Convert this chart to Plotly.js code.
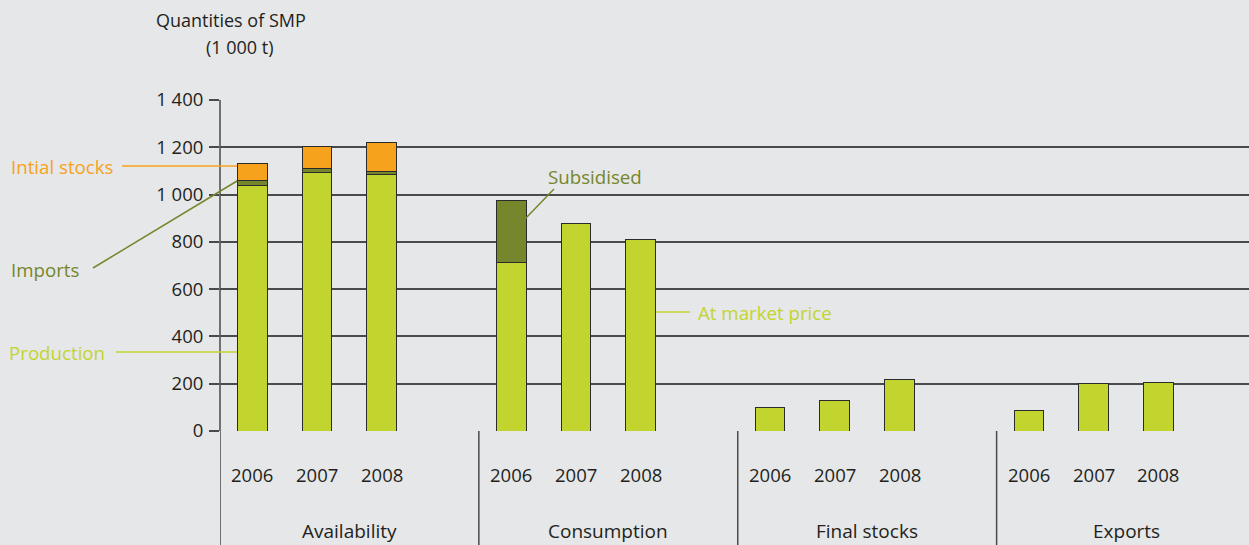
<!DOCTYPE html>
<html>
<head>
<meta charset="utf-8">
<script src="https://cdn.plot.ly/plotly-3.0.1.min.js"></script>
<style>html,body{margin:0;padding:0;background:#e6e7e8;}#chart{width:1249px;height:545px;}</style>
</head>
<body>
<div id="chart"></div>
<script>
// ---- data ----
const groups = ['Availability', 'Consumption', 'Final stocks', 'Exports'];
const years = ['2006', '2007', '2008'];
// lower segment: Production (availability) / At market price (consumption) / totals
const baseValues = [1040, 1093, 1083, 714, 876, 809, 98, 130, 219, 88, 202, 207];
// middle segment: Imports (availability) / Subsidised (consumption)
const midValues = [18, 18, 14, 263, null, null, null, null, null, null, null, null];
// top segment: Initial stocks
const topValues = [74, 94, 124, null, null, null, null, null, null, null, null, null];
const yTickVals = [0, 200, 400, 600, 800, 1000, 1200, 1400];
const yTickText = ['0', '200', '400', '600', '800', '1 000', '1 200', '1 400'];

// ---- layout helpers ----
const slotsPerGroup = 4;
const xPos = [];
groups.forEach((g, gi) => years.forEach((y, yi) => xPos.push(gi * slotsPerGroup + yi)));

const W = 1249, H = 545, L = 220, T = 100, B = 114, R = 0;
const pw = W - L - R, ph = H - T - B;
const px = x => (x - L) / pw;          // pixel -> paper x
const py = y => (H - B - y) / ph;      // pixel -> paper y

const FONT = 'Open Sans, sans-serif';
const TXT = '#231f20';
const LIME = '#c2d52f', OLIVE = '#76862c', ORANGE = '#f7a21d';
const GRID = '#4a4a4a';
const lineStyle = {color: '#2b2b2b', width: 1};

const traces = [
  {type: 'bar', x: xPos, y: baseValues, marker: {color: LIME, line: lineStyle}, width: 0.46, hoverinfo: 'y'},
  {type: 'bar', x: xPos, y: midValues, marker: {color: OLIVE, line: lineStyle}, width: 0.46, hoverinfo: 'y'},
  {type: 'bar', x: xPos, y: topValues, marker: {color: ORANGE, line: lineStyle}, width: 0.46, hoverinfo: 'y'}
];

const annotations = [];
const shapes = [];

// year labels and group labels
xPos.forEach((x, i) => annotations.push({
  xref: 'x', yref: 'paper', x: x, y: py(474), text: years[i % 3], showarrow: false,
  xanchor: 'center', yanchor: 'middle', font: {family: FONT, size: 18.5, color: TXT}
}));
groups.forEach((g, gi) => annotations.push({
  xref: 'x', yref: 'paper', x: gi * slotsPerGroup + 1.5, y: py(531), text: g, showarrow: false,
  xanchor: 'center', yanchor: 'middle', font: {family: FONT, size: 19, color: TXT}
}));
// separators below axis
[-0.5, 3.5, 7.5, 11.5].forEach(x => shapes.push({
  type: 'line', xref: 'x', yref: 'paper', x0: x, x1: x, y0: 0, y1: py(H),
  line: {color: GRID, width: 1.5}
}));
shapes.push({type: 'line', xref: 'paper', yref: 'paper', x0: 0, x1: 0, y0: 1, y1: 0,
  line: {color: GRID, width: 1.5}});

// y axis title
annotations.push({xref: 'paper', yref: 'paper', x: px(231), y: py(20), text: 'Quantities of SMP',
  showarrow: false, xanchor: 'center', yanchor: 'middle', font: {family: FONT, size: 18, color: TXT}});
annotations.push({xref: 'paper', yref: 'paper', x: px(240), y: py(47), text: '(1 000 t)',
  showarrow: false, xanchor: 'center', yanchor: 'middle', font: {family: FONT, size: 18, color: TXT}});

// callouts
function label(text, x, y, anchor, color) {
  annotations.push({xref: 'paper', yref: 'paper', x: px(x), y: py(y), text: text, showarrow: false,
    xanchor: anchor, yanchor: 'middle', font: {family: FONT, size: 18.7, color: color}});
}
function pointer(x0, y0, x1, y1, color) {
  shapes.push({type: 'line', xref: 'paper', yref: 'paper', x0: px(x0), y0: py(y0), x1: px(x1), y1: py(y1),
    line: {color: color, width: 1.5}});
}
label('Intial stocks', 9, 166, 'left', ORANGE); pointer(122, 166, 237, 166, ORANGE);
label('Imports', 9, 269, 'left', OLIVE); pointer(93, 268, 237, 181, OLIVE);
label('Production', 7, 352, 'left', LIME); pointer(116, 352, 237, 352, LIME);
label('Subsidised', 595, 176, 'center', OLIVE); pointer(554, 189, 525, 219, OLIVE);
label('At market price', 696, 312, 'left', LIME); pointer(656, 312, 690, 312, LIME);

const layout = {
  width: W, height: H,
  margin: {l: L, r: R, t: T, b: B, pad: 0},
  paper_bgcolor: '#e6e7e8', plot_bgcolor: '#e6e7e8',
  barmode: 'stack', showlegend: false,
  xaxis: {range: [-0.5, 15.4], showticklabels: false, showgrid: false, zeroline: false,
          showline: false, ticks: '', fixedrange: true},
  yaxis: {range: [0, 1400], tickvals: yTickVals, ticktext: yTickText, showgrid: true,
          gridcolor: GRID, gridwidth: 2, zeroline: false, showline: false,
          ticks: 'outside', ticklen: 10, tickwidth: 2, tickcolor: GRID,
          tickfont: {family: FONT, size: 18.5, color: TXT}, ticklabelstandoff: 2},
  annotations: annotations, shapes: shapes
};

Plotly.newPlot('chart', traces, layout, {displayModeBar: false, staticPlot: true});
</script>
</body>
</html>
